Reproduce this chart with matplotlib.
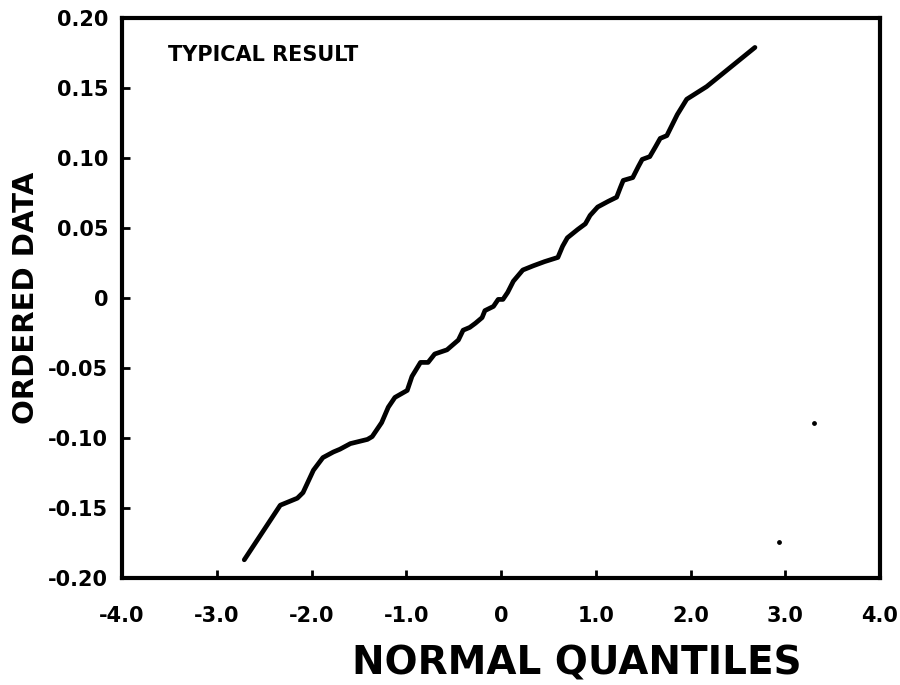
import matplotlib.pyplot as plt

# normal quantiles vs ordered residuals
quantiles = [-2.71, -2.33, -2.15, -2.09, -1.98, -1.88, -1.77, -1.70, -1.59, -1.41,
             -1.36, -1.26, -1.19, -1.12, -0.99, -0.94, -0.85, -0.77, -0.70, -0.57,
             -0.45, -0.40, -0.33, -0.27, -0.20, -0.17, -0.08, -0.03, 0.02, 0.07,
             0.13, 0.23, 0.34, 0.46, 0.60, 0.65, 0.70, 0.81, 0.89, 0.94,
             1.02, 1.13, 1.22, 1.26, 1.29, 1.39, 1.45, 1.49, 1.57, 1.63,
             1.68, 1.75, 1.86, 1.96, 2.17, 2.68]
ordered = [-0.187, -0.148, -0.143, -0.139, -0.123, -0.114, -0.110, -0.108, -0.104, -0.101,
           -0.099, -0.089, -0.078, -0.071, -0.066, -0.056, -0.046, -0.046, -0.040, -0.037,
           -0.030, -0.023, -0.021, -0.018, -0.014, -0.009, -0.006, -0.001, -0.001, 0.004,
           0.012, 0.020, 0.023, 0.026, 0.029, 0.037, 0.043, 0.049, 0.053, 0.059,
           0.065, 0.069, 0.072, 0.079, 0.084, 0.086, 0.094, 0.099, 0.101, 0.108,
           0.114, 0.116, 0.131, 0.142, 0.151, 0.179]

# specks on the page
speck_x = [3.30, 2.93]
speck_y = [-0.089, -0.174]

xticks = [-4, -3, -2, -1, 0, 1, 2, 3, 4]
xticklabels = ["-4.0", "-3.0", "-2.0", "-1.0", "0", "1.0", "2.0", "3.0", "4.0"]
yticks = [0.20, 0.15, 0.10, 0.05, 0, -0.05, -0.10, -0.15, -0.20]
yticklabels = ["0.20", "0.15", "0.10", "0.05", "0", "-0.05", "-0.10", "-0.15", "-0.20"]

plt.rcParams['font.family'] = ['DejaVu Sans']
plt.rcParams['font.weight'] = 'bold'

fig = plt.figure(figsize=(9, 6.85), dpi=100)
ax = fig.add_axes([0.1356, 0.1562, 0.8422, 0.8175])

ax.plot(quantiles, ordered, color='black', linewidth=3.4, solid_capstyle='round',
        solid_joinstyle='round')
ax.scatter(speck_x, speck_y, s=6, color='black')

ax.set_xlim(-4, 4)
ax.set_ylim(-0.20, 0.20)
ax.set_xticks(xticks)
ax.set_xticklabels(xticklabels)
ax.set_yticks(yticks)
ax.set_yticklabels(yticklabels)
ax.tick_params(direction='in', length=6, width=2, labelsize=15)
ax.tick_params(axis='x', pad=20)
ax.tick_params(axis='y', pad=10)
for lab in ax.get_xticklabels() + ax.get_yticklabels():
    lab.set_fontweight('bold')
for sp in ax.spines.values():
    sp.set_linewidth(3)

ax.text(-3.51, 0.1736, "TYPICAL RESULT", fontsize=15, fontweight='bold', va='center')

fig.text(0.641, 0.016, "NORMAL QUANTILES", fontsize=28, fontweight='bold',
         ha='center', va='baseline')
fig.text(0.029, 0.565, "ORDERED DATA", fontsize=21, fontweight='bold',
         ha='center', va='center', rotation=90)

fig.savefig("out.png", dpi=100)
